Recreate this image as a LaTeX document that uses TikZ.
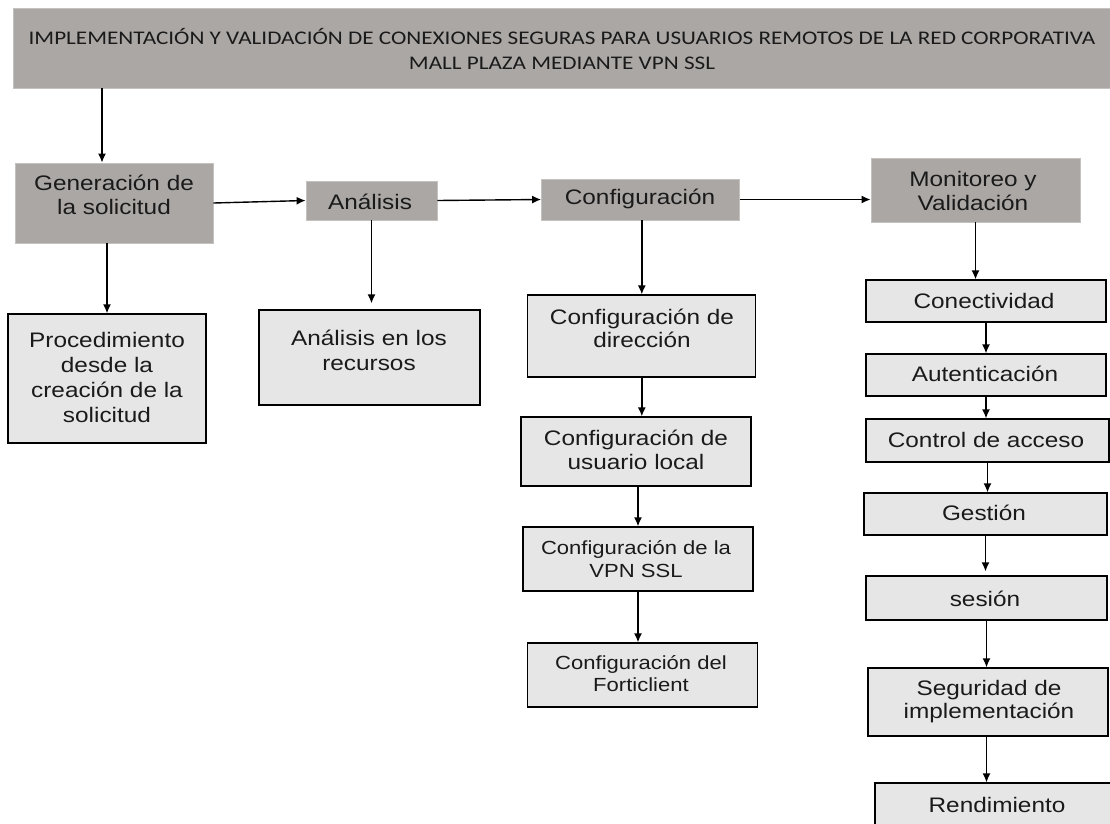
\documentclass[tikz,border=0pt]{standalone}
\usepackage{fontspec}
\setmainfont{Liberation Sans}[FakeStretch=1.16]
\newfontfamily\titlefont{Carlito}[FakeStretch=1.2]
\usetikzlibrary{arrows.meta}
\definecolor{darkbox}{HTML}{ABA7A5}
\definecolor{darkedge}{HTML}{C4C1BF}
\definecolor{lightbox}{HTML}{E6E6E6}
\definecolor{txtcol}{HTML}{1A1A1A}
\tikzset{
  dbox/.style={rectangle, fill=darkbox, draw=darkedge, line width=0.8pt, inner sep=0pt},
  lbox/.style={rectangle, fill=lightbox, draw=black, line width=1.3pt, inner sep=0pt},
  txt/.style={inner sep=0pt, align=center, text=txtcol, font=\fontsize{21}{24.5}\selectfont},
  smalltxt/.style={txt, font=\fontsize{19}{22.5}\selectfont},
  ttxt/.style={inner sep=0pt, align=center, text=txtcol, font=\titlefont\fontsize{19.3}{25}\selectfont},
  arr/.style={-{Latex[length=9pt,width=8pt]}, line width=1.4pt, black},
}
\begin{document}
\begin{tikzpicture}[x=1pt,y=-1pt]
\clip (0,0) rectangle (1110,823);
\fill[white] (0,0) rectangle (1110,823);
% top title
\node[dbox, minimum width=1112pt, minimum height=80pt] (title) at (569,48) {};
\node[ttxt] (titlet) at (562,49.5) {IMPLEMENTACIÓN Y VALIDACIÓN DE CONEXIONES SEGURAS PARA USUARIOS REMOTOS DE LA RED CORPORATIVA\\MALL PLAZA MEDIANTE VPN SSL};
% main row
\node[dbox, minimum width=198pt, minimum height=80pt] (gen) at (114,203) {};
\node[txt] (gent) at (114,195) {Generación de\\la solicitud};
\node[dbox, minimum width=131pt, minimum height=39pt] (an) at (371.5,200.5) {};
\node[txt] (ant) at (370,202) {Análisis};
\node[dbox, minimum width=198pt, minimum height=41pt] (conf) at (640.5,199.5) {};
\node[txt] (conft) at (640,199) {Configuración};
\node[dbox, minimum width=209pt, minimum height=64pt] (mon) at (975.5,190) {};
\node[txt, font=\fontsize{21}{24}\selectfont] (mont) at (973,191) {Monitoreo y\\Validación};
% sub boxes
\node[lbox, minimum width=198pt, minimum height=129pt] (proc) at (107,378.5) {};
\node[txt, font=\fontsize{21}{25}\selectfont] (proct) at (107,377.5) {Procedimiento\\desde la\\creación de la\\solicitud};
\node[lbox, minimum width=221pt, minimum height=95pt] (rec) at (369.5,357.5) {};
\node[txt, font=\fontsize{21}{25}\selectfont] (rect) at (369,350.5) {Análisis en los\\recursos};
\node[lbox, minimum width=228pt, minimum height=82pt] (dir) at (641.8,336) {};
\node[txt, font=\fontsize{21}{23}\selectfont] (dirt) at (642,328.5) {Configuración de\\dirección};
\node[lbox, minimum width=230pt, minimum height=69pt] (usr) at (636,451.5) {};
\node[txt, font=\fontsize{21}{24}\selectfont] (usrt) at (636,450) {Configuración de\\usuario local};
\node[lbox, minimum width=230pt, minimum height=64pt] (vpn) at (638,559) {};
\node[smalltxt, font=\fontsize{19}{23}\selectfont] (vpnt) at (636,559.5) {Configuración de la\\VPN SSL};
\node[lbox, minimum width=230pt, minimum height=64pt] (forti) at (642.8,675) {};
\node[smalltxt, font=\fontsize{19}{22}\selectfont] (fortit) at (641,674) {Configuración del\\Forticlient};
% right column
\node[lbox, minimum width=240pt, minimum height=42pt] (con) at (986,301) {};
\node[txt] (cont) at (984,301) {Conectividad};
\node[lbox, minimum width=240pt, minimum height=42pt] (aut) at (986,375) {};
\node[txt] (autt) at (985,374) {Autenticación};
\node[lbox, minimum width=243pt, minimum height=43pt] (ctrl) at (987.5,440.5) {};
\node[txt] (ctrlt) at (986,440) {Control de acceso};
\node[lbox, minimum width=243pt, minimum height=42pt] (ges) at (985.5,514) {};
\node[txt] (gest) at (984,513) {Gestión};
\node[lbox, minimum width=241pt, minimum height=44pt] (ses) at (986.5,598) {};
\node[txt] (sest) at (985,599) {sesión};
\node[lbox, minimum width=240pt, minimum height=68pt] (seg) at (988,702) {};
\node[txt, font=\fontsize{21}{23}\selectfont] (segt) at (989,701.5) {Seguridad de\\implementación};
\node[lbox, minimum width=237pt, minimum height=57pt] (ren) at (993.5,811.5) {};
\node[txt] (rent) at (997,805) {Rendimiento};
% connectors
\coordinate (ta) at (102,88);
\draw[arr] (title.south -| ta) -- (gen.north -| ta);
\draw[arr] (gen.east) -- (an.west);
\draw[arr] (an.east) -- (conf.west);
\draw[arr] (conf.east) -- (conf.east -| mon.west);
\draw[arr] (proc.north |- gen.south) -- (proc.north);
\draw[arr, shorten >=6pt] (an.south) -- (an.south |- rec.north);
\draw[arr] (dir.north |- conf.south) -- (dir.north);
\draw[arr] (dir.south) -- (dir.south |- usr.north);
\draw[arr] (vpn.north |- usr.south) -- (vpn.north);
\draw[arr] (vpn.south) -- (vpn.south |- forti.north);
\draw[arr] (mon.south) -- (mon.south |- con.north);
\draw[arr] (con.south) -- (con.south |- aut.north);
\draw[arr] (aut.south) -- (aut.south |- ctrl.north);
\draw[arr] (ctrl.south) -- (ctrl.south |- ges.north);
\draw[arr, shorten >=4pt] (ges.south) -- (ges.south |- ses.north);
\draw[arr] (ses.south) -- (ses.south |- seg.north);
\draw[arr] (ses.south |- seg.south) -- (ses.south |- ren.north);
\end{tikzpicture}
\end{document}
